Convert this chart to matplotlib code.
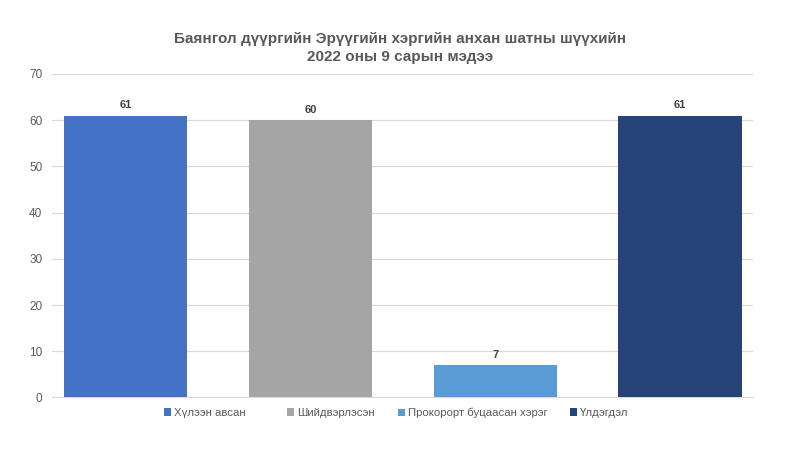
import matplotlib.pyplot as plt
from matplotlib.patches import Patch

plt.rcParams['font.family'] = ['Liberation Sans', 'DejaVu Sans']

categories = ['Хүлээн авсан', 'Шийдвэрлэсэн', 'Прокорорт буцаасан хэрэг', 'Үлдэгдэл']
values = [61, 60, 7, 61]
colors = ['#4472C4', '#A5A5A5', '#5B9BD5', '#264478']
title = 'Баянгол дүүргийн Эрүүгийн хэргийн анхан шатны шүүхийн\n2022 оны 9 сарын мэдээ'

fig = plt.figure(figsize=(8, 4.5), dpi=100)
ax = fig.add_axes([0.065, 0.1167, 0.8763, 0.7189])

x = list(range(len(values)))
bars = ax.bar(x, values, width=0.666, color=colors, zorder=3)
for xi, v in zip(x, values):
    ax.text(xi, v + 1.2, str(v), ha='center', va='bottom', fontsize=8,
            fontweight='bold', color='#404040')

ax.set_xlim(-0.398, 3.395)
ax.set_ylim(0, 70)
ax.set_yticks(range(0, 71, 10))
ax.set_xticks([])
ax.tick_params(axis='y', length=0, pad=7, labelsize=8.5, labelcolor='#595959')
ax.grid(axis='y', color='#D9D9D9', linewidth=0.9, zorder=0)
for s in ['top', 'right', 'left']:
    ax.spines[s].set_visible(False)
ax.spines['bottom'].set_color('#D9D9D9')

fig.text(0.5, 0.893, title, ha='center', va='center', fontsize=11,
         fontweight='bold', color='#595959', linespacing=1.3)

# legend entries placed like the original (uneven spacing)
legend_x = [164, 287, 398, 570]
for lx, c, lab in zip(legend_x, colors, categories):
    leg = fig.legend([Patch(facecolor=c)], [lab], loc='center left',
                     bbox_to_anchor=(lx / 800, 0.082), frameon=False,
                     fontsize=8.2, labelcolor='#595959', handlelength=0.6,
                     handleheight=0.6, handletextpad=0.3, borderpad=0,
                     borderaxespad=0)

fig.savefig('out.png', dpi=100)
